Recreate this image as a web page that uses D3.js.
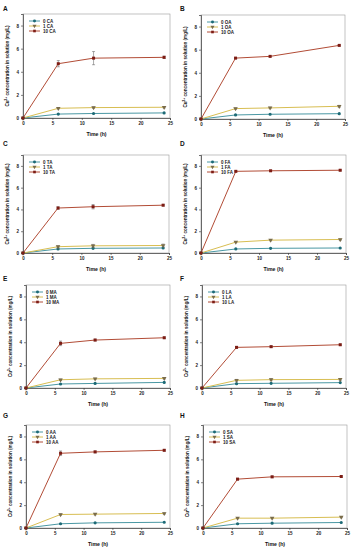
<!DOCTYPE html>
<html><head><meta charset="utf-8">
<script src="https://cdn.jsdelivr.net/npm/d3@7"></script>
<style>
html,body{margin:0;padding:0;background:#fff;}
svg{display:block;font-family:"Liberation Sans",Arial,sans-serif;}
</style></head>
<body>
<svg id="c" width="352" height="550"></svg>
<script>
// ---- data ----
const times = [0, 6, 12, 24];
const panelLetters = ["A","B","C","D","E","F","G","H"];
const acids = ["CA","OA","TA","FA","MA","LA","AA","SA"];
const doses = ["0","1","10"];
const xTicks = [0,5,10,15,20,25];
const yTicks = [0,2,4,6,8];

const series0 = [
  [0,0.34,0.39,0.44],
  [0,0.35,0.41,0.46],
  [0,0.37,0.43,0.46],
  [0,0.37,0.43,0.46],
  [0,0.35,0.40,0.49],
  [0,0.38,0.41,0.47],
  [0,0.37,0.45,0.50],
  [0,0.37,0.42,0.48]
];
const series1 = [
  [0,0.84,0.90,0.93],
  [0,0.90,0.96,1.10],
  [0,0.58,0.66,0.69],
  [0,1.00,1.18,1.24],
  [0,0.72,0.80,0.84],
  [0,0.67,0.73,0.75],
  [0,1.18,1.21,1.27],
  [0,0.86,0.86,0.95]
];
const series10 = [
  [0,4.70,5.18,5.25],
  [0,5.27,5.42,6.37],
  [0,4.13,4.25,4.39],
  [0,7.50,7.55,7.60],
  [0,3.90,4.19,4.39],
  [0,3.55,3.61,3.78],
  [0,6.53,6.65,6.79],
  [0,4.27,4.47,4.50]
];
const err10 = [
  [0,0.27,0.57,0.10],
  [0,0.05,0.05,0.05],
  [0,0.12,0.20,0.07],
  [0,0.05,0.05,0.05],
  [0,0.20,0.08,0.07],
  [0,0.08,0.07,0.06],
  [0,0.20,0.08,0.07],
  [0,0.07,0.07,0.06]
];
const err1 = [
  [0,0.05,0.06,0.06],
  [0,0.06,0.06,0.08],
  [0,0.08,0.13,0.13],
  [0,0.05,0.06,0.06],
  [0,0.06,0.06,0.06],
  [0,0.08,0.09,0.08],
  [0,0.06,0.06,0.06],
  [0,0.05,0.05,0.05]
];

// ---- layout (pixels) ----
const panels = [
  {lx:3,  ly:11,  l:23,  t:14,  r:170, b:118},
  {lx:180,ly:11,  l:201, t:15,  r:345, b:119},
  {lx:3,  ly:146, l:23,  t:155, r:169, b:253},
  {lx:180,ly:146, l:201, t:155, r:346, b:253},
  {lx:3,  ly:281, l:26,  t:285, r:170, b:388},
  {lx:180,ly:281, l:202, t:285, r:346, b:388},
  {lx:3,  ly:418, l:26,  t:425, r:170, b:528},
  {lx:180,ly:418, l:203, t:425, r:347, b:528}
];
const lineCol = ["#4a98a4","#d8be52","#b24c36"];
const markCol = ["#1d6a76","#7a6c4a","#7d1c14"];

const svg = d3.select("#c");

panels.forEach((p,i)=>{
  const g = svg.append("g");
  const x = d3.scaleLinear().domain([0,25]).range([p.l,p.r]);
  const y = d3.scaleLinear().domain([0,9]).range([p.b,p.t]);

  g.append("text").attr("x",p.lx).attr("y",p.ly).text(panelLetters[i])
    .attr("font-size",6.5).attr("font-weight","bold").attr("fill","#111");

  // frame
  g.append("rect").attr("x",p.l).attr("y",p.t).attr("width",p.r-p.l).attr("height",p.b-p.t)
    .attr("fill","none").attr("stroke","#9a9a9a").attr("stroke-width",0.6);

  const xa = g.append("g").attr("transform",`translate(0,${p.b})`)
    .call(d3.axisBottom(x).tickValues(xTicks).tickSize(2).tickPadding(1.5).tickFormat(d3.format("d")));
  const ya = g.append("g").attr("transform",`translate(${p.l},0)`)
    .call(d3.axisLeft(y).tickValues(yTicks).tickSize(2).tickPadding(2).tickFormat(d3.format("d")));
  [xa,ya].forEach(a=>{
    a.select(".domain").attr("stroke","#333").attr("stroke-width",0.7);
    a.selectAll(".tick line").attr("stroke","#333").attr("stroke-width",0.6);
    a.selectAll("text").attr("font-size",4.5).attr("fill","#222").attr("font-family","Liberation Sans, Arial, sans-serif").attr("font-weight","bold");
  });

  // axis titles
  g.append("text").attr("x",(p.l+p.r)/2).attr("y",p.b+17.5).attr("text-anchor","middle")
    .attr("font-size",5.2).attr("font-weight","bold").attr("fill","#111").text("Time (h)");
  const yl = g.append("text")
    .attr("transform",`translate(${p.l-14},${(p.t+p.b)/2}) rotate(-90)`)
    .attr("text-anchor","middle").attr("font-size",4.6).attr("font-weight","bold").attr("fill","#111");
  yl.append("tspan").text("Cu");
  yl.append("tspan").attr("font-size",3.2).attr("dy",-1.8).text("2+");
  yl.append("tspan").attr("dy",1.8).text(" concentration in solution (mg/L)");

  const allSeries = [series0[i], series1[i], series10[i]];
  const errs = [null, err1[i], err10[i]];
  const line = d3.line().x((d,k)=>x(times[k])).y(d=>y(d));

  allSeries.forEach((s,si)=>{
    // error bars
    if(errs[si]){
      s.forEach((v,k)=>{
        const e = errs[si][k];
        if(e<=0) return;
        const cx = x(times[k]);
        g.append("line").attr("x1",cx).attr("x2",cx).attr("y1",y(v+e)).attr("y2",y(v-e))
          .attr("stroke","#555").attr("stroke-width",0.5);
        [v+e,v-e].forEach(w=>g.append("line").attr("x1",cx-1.5).attr("x2",cx+1.5)
          .attr("y1",y(w)).attr("y2",y(w)).attr("stroke","#555").attr("stroke-width",0.5));
      });
    }
    g.append("path").datum(s).attr("d",line).attr("fill","none")
      .attr("stroke",lineCol[si]).attr("stroke-width",1);
  });
  allSeries.forEach((s,si)=>{
    const sym = si===0 ? d3.symbolCircle : (si===1 ? d3.symbolTriangle : d3.symbolSquare);
    const size = si===0 ? 8 : (si===1 ? 9 : 9);
    s.forEach((v,k)=>{
      g.append("path").attr("d",d3.symbol().type(sym).size(size)())
        .attr("transform",`translate(${x(times[k])},${y(v)})${si===1?" rotate(180)":""}`)
        .attr("fill",markCol[si]).attr("stroke","none");
    });
  });

  // legend
  doses.forEach((d,di)=>{
    const ly = p.t + 7 + di*5;
    const x1 = p.l+6, x2 = p.l+17;
    g.append("line").attr("x1",x1).attr("x2",x2).attr("y1",ly).attr("y2",ly)
      .attr("stroke",lineCol[di]).attr("stroke-width",1);
    const sym = di===0 ? d3.symbolCircle : (di===1 ? d3.symbolTriangle : d3.symbolSquare);
    g.append("path").attr("d",d3.symbol().type(sym).size(7)())
      .attr("transform",`translate(${(x1+x2)/2},${ly})${di===1?" rotate(180)":""}`)
      .attr("fill",markCol[di]);
    g.append("text").attr("x",p.l+20).attr("y",ly+1.6).attr("font-size",4.5)
      .attr("font-weight","bold").attr("fill","#222").text(`${d} ${acids[i]}`);
  });
});
</script>
</body></html>
